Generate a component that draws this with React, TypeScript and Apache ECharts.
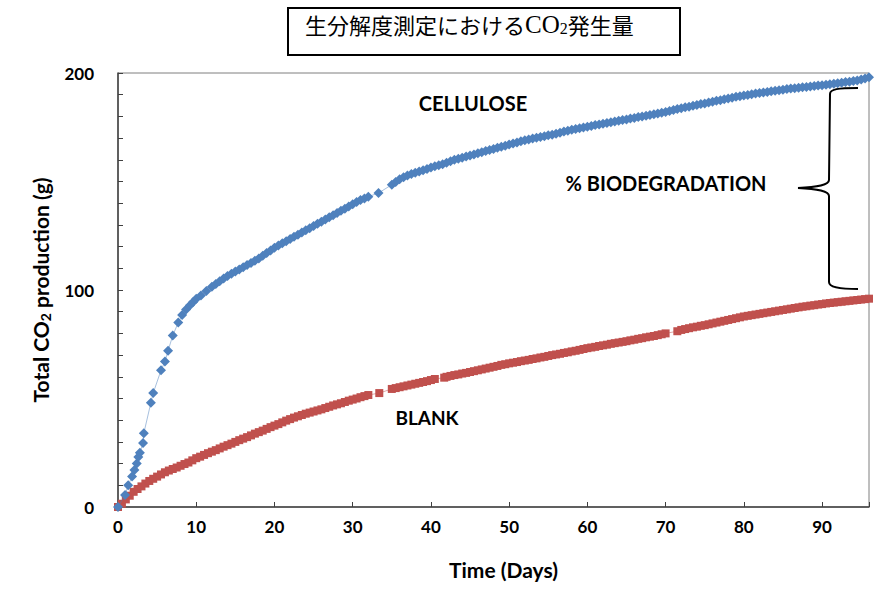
import React, { useEffect, useRef } from "react";
import * as echarts from "echarts";

// [day, total CO2 (g)]
const cellulosePoints: [number, number][] = [
  [0, 0], [0.9, 5.5], [1.3, 10], [1.8, 14], [2.1, 17], [2.4, 20], [2.6, 23], [2.8, 25], [3.2, 29.5], [3.3, 34],
  [4.2, 48], [4.5, 52.5], [5.5, 63], [6, 67], [6.4, 72], [7, 79], [7.7, 85], [8.2, 88.5], [8.7, 91], [9.2, 93], [9.6, 94.5],
  [10, 96], [10.6, 97.5], [11.3, 99.5], [12, 101.5], [12.5, 102.8], [13, 104], [13.5, 105.3], [14, 106.5], [14.5, 107.5],
  [15, 108.5], [15.5, 109.5], [16, 110.5], [16.5, 111.5], [17, 112.5], [17.5, 113.5], [18, 114.5], [18.5, 115.8], [19, 117], [19.5, 118.2],
  [20, 119.5], [20.5, 120.5], [21, 121.5], [21.5, 122.5], [22, 123.5], [22.5, 124.5], [23, 125.5], [23.5, 126.5], [24, 127.5], [24.5, 128.5],
  [25, 129.5], [25.5, 130.5], [26, 131.5], [26.5, 132.5], [27, 133.5], [27.5, 134.5], [28, 135.5], [28.5, 136.5], [29, 137.5], [29.5, 138.5],
  [30, 139.5], [30.5, 140.5], [31, 141.5], [31.5, 142.2], [32, 143], [33.3, 144.7], [35, 148.5], [35.5, 149.8], [36, 151], [36.5, 152],
  [37, 152.8], [37.5, 153.5], [38, 154], [38.5, 154.6], [39, 155.2], [39.5, 155.8], [40, 156.4], [40.5, 157], [41, 157.5], [41.5, 158],
  [42, 158.6], [42.5, 159.3], [43, 160], [43.5, 160.5], [44, 161], [44.5, 161.5], [45, 162], [45.5, 162.5], [46, 163], [46.5, 163.5],
  [47, 164], [47.5, 164.5], [48, 165], [48.5, 165.5], [49, 166], [49.5, 166.5], [50, 167], [50.5, 167.5], [51, 168], [51.5, 168.5],
  [52, 169], [52.5, 169.4], [53, 169.8], [53.5, 170.2], [54, 170.5], [54.5, 170.9], [55, 171.3], [55.5, 171.6], [56, 172], [56.5, 172.5],
  [57, 173], [57.5, 173.4], [58, 173.8], [58.5, 174.2], [59, 174.5], [59.5, 174.9], [60, 175.2], [60.5, 175.6], [61, 176], [61.5, 176.3],
  [62, 176.6], [62.5, 177], [63, 177.3], [63.5, 177.7], [64, 178], [64.5, 178.3], [65, 178.6], [65.5, 179], [66, 179.3], [66.5, 179.7],
  [67, 180], [67.5, 180.3], [68, 180.6], [68.5, 181], [69, 181.3], [69.5, 181.7], [70, 182], [70.5, 182.5], [71, 183], [71.5, 183.4],
  [72, 183.8], [72.5, 184.2], [73, 184.5], [73.5, 184.9], [74, 185.3], [74.5, 185.7], [75, 186], [75.5, 186.4], [76, 186.8], [76.5, 187.2],
  [77, 187.5], [77.5, 187.9], [78, 188.2], [78.5, 188.6], [79, 189], [79.5, 189.3], [80, 189.6], [80.5, 189.9], [81, 190.2], [81.5, 190.5],
  [82, 190.8], [82.5, 191], [83, 191.3], [83.5, 191.6], [84, 191.8], [84.5, 192.1], [85, 192.3], [85.5, 192.6], [86, 192.8], [86.5, 193],
  [87, 193.2], [87.5, 193.4], [88, 193.6], [88.5, 193.8], [89, 194], [89.5, 194.2], [90, 194.4], [90.5, 194.6], [91, 194.8], [91.5, 195],
  [92, 195.3], [92.5, 195.5], [93, 195.8], [93.5, 196], [94, 196.3], [94.5, 196.6], [95, 197], [95.5, 197.5], [96, 198],
];

const blankPoints: [number, number][] = [
  [0, 0], [0.5, 1.5], [1, 3.5], [1.5, 5.2], [2, 7], [2.5, 8.3], [3, 9.5], [3.5, 10.8], [4, 12], [4.5, 13],
  [5, 14], [5.5, 15], [6, 16], [6.5, 16.8], [7, 17.5], [7.5, 18.2], [8, 19], [8.5, 19.8], [9, 20.5], [9.5, 21.5],
  [10, 22.5], [10.5, 23.2], [11, 24], [11.5, 24.8], [12, 25.5], [12.5, 26.2], [13, 27], [13.5, 27.8], [14, 28.5], [14.5, 29.2],
  [15, 30], [15.5, 30.8], [16, 31.5], [16.5, 32.2], [17, 33], [17.5, 33.8], [18, 34.5], [18.5, 35.2], [19, 36], [19.5, 36.8],
  [20, 37.5], [20.5, 38.2], [21, 39], [21.5, 39.8], [22, 40.5], [22.5, 41.2], [23, 41.8], [23.5, 42.4], [24, 43], [24.5, 43.5],
  [25, 44], [25.5, 44.5], [26, 45], [26.5, 45.6], [27, 46.2], [27.5, 46.8], [28, 47.3], [28.5, 47.8], [29, 48.4], [29.5, 49],
  [30, 49.5], [30.5, 50], [31, 50.6], [31.5, 51.1], [32, 51.6], [33.4, 52.5], [35, 54.4], [35.5, 54.8], [36, 55.2], [36.5, 55.6],
  [37, 56], [37.5, 56.4], [38, 56.8], [38.5, 57.2], [39, 57.6], [39.5, 58], [40, 58.5], [40.5, 59], [41.7, 59.6], [42, 60],
  [42.5, 60.4], [43, 60.8], [43.5, 61.1], [44, 61.5], [44.5, 61.8], [45, 62.2], [45.5, 62.6], [46, 63], [46.5, 63.4], [47, 63.8],
  [47.5, 64.2], [48, 64.6], [48.5, 65], [49, 65.5], [49.5, 65.8], [50, 66.2], [50.5, 66.5], [51, 66.8], [51.5, 67.2], [52, 67.5],
  [52.5, 67.8], [53, 68.2], [53.5, 68.5], [54, 68.9], [54.5, 69.2], [55, 69.6], [55.5, 70], [56, 70.3], [56.5, 70.6], [57, 71],
  [57.5, 71.3], [58, 71.7], [58.5, 72], [59, 72.4], [59.5, 72.8], [60, 73.2], [60.5, 73.5], [61, 73.8], [61.5, 74.2], [62, 74.5],
  [62.5, 74.8], [63, 75.2], [63.5, 75.5], [64, 75.8], [64.5, 76.1], [65, 76.4], [65.5, 76.8], [66, 77.1], [66.5, 77.5], [67, 77.8],
  [67.5, 78.2], [68, 78.5], [68.5, 78.8], [69, 79.2], [69.5, 79.6], [70, 80], [71.5, 81], [72, 81.6], [72.5, 82], [73, 82.4],
  [73.5, 82.8], [74, 83.1], [74.5, 83.5], [75, 83.8], [75.5, 84.2], [76, 84.6], [76.5, 85], [77, 85.4], [77.5, 85.8], [78, 86.2],
  [78.5, 86.6], [79, 87], [79.5, 87.4], [80, 87.8], [80.5, 88.1], [81, 88.4], [81.5, 88.7], [82, 89], [82.5, 89.3], [83, 89.6],
  [83.5, 89.9], [84, 90.2], [84.5, 90.5], [85, 90.8], [85.5, 91.1], [86, 91.4], [86.5, 91.7], [87, 92], [87.5, 92.3], [88, 92.5],
  [88.5, 92.8], [89, 93], [89.5, 93.3], [90, 93.5], [90.5, 93.8], [91, 94], [91.5, 94.2], [92, 94.4], [92.5, 94.6], [93, 94.8],
  [93.5, 95], [94, 95.2], [94.5, 95.4], [95, 95.6], [95.5, 95.8], [96, 96],
];

const xTicks = [0, 10, 20, 30, 40, 50, 60, 70, 80, 90];
const yLabels = [0, 100, 200];

const FONT = "Lato";

export default function App() {
  const ref = useRef<HTMLDivElement>(null);
  useEffect(() => {
    if (!ref.current) return;
    echarts.graphic.registerShape(
      "brace",
      echarts.graphic.extendPath(
        "M 60 0 C 40 0 32 1 32 6 L 31 92 C 31 97 20 99 0 100 C 20 101 31 103 31 108 L 31 194 C 31 199 40 201 60 201",
        {}
      )
    );
    const chart = echarts.init(ref.current, null, { renderer: "svg" });
    chart.setOption({
      animation: false,
      backgroundColor: "#ffffff",
      grid: {
        left: 118,
        right: 17,
        top: 73,
        bottom: 82,
        show: true,
        borderColor: "#7f7f7f",
        borderWidth: 1,
      },
      xAxis: {
        type: "value",
        min: 0,
        max: 96,
        interval: 10,
        name: "Time (Days)",
        nameLocation: "middle",
        nameGap: 52,
        nameTextStyle: {
          fontFamily: FONT,
          fontWeight: "bold",
          fontSize: 21,
          color: "#000",
          padding: [0, 0, 0, 20],
        },
        axisLine: { show: true, onZero: false, lineStyle: { color: "#404040", width: 1.5 } },
        axisTick: { show: true, inside: true, length: 5, lineStyle: { color: "#404040" } },
        axisLabel: {
          fontFamily: FONT,
          fontWeight: "bold",
          fontSize: 17,
          color: "#000",
          margin: 11,
          formatter: (v: number) => (xTicks.includes(v) ? String(v) : ""),
        },
        splitLine: { show: false },
      },
      yAxis: {
        type: "value",
        min: 0,
        max: 200,
        interval: 10,
        name: "{a|Total CO}{s|2}{a| production (g)}",
        nameLocation: "middle",
        nameGap: 66,
        nameRotate: 90,
        nameTextStyle: {
          rich: {
            a: { fontFamily: FONT, fontWeight: "bold", fontSize: 21, color: "#000" },
            s: { fontFamily: FONT, fontWeight: "bold", fontSize: 14, color: "#000", padding: [9, 0, 0, 0] },
          },
        },
        axisLine: { show: true, lineStyle: { color: "#404040", width: 1.5 } },
        axisTick: { show: true, inside: true, length: 5, lineStyle: { color: "#404040" } },
        axisLabel: {
          fontFamily: FONT,
          fontWeight: "bold",
          fontSize: 17,
          color: "#000",
          margin: 24,
          formatter: (v: number) => (yLabels.includes(v) ? String(v) : ""),
        },
        splitLine: { show: false },
      },
      series: [
        {
          name: "BLANK",
          type: "line",
          data: blankPoints,
          symbol: "rect",
          symbolSize: 8,
          showAllSymbol: true,
          itemStyle: { color: "#C0504D" },
          lineStyle: { color: "#C0504D", width: 1, opacity: 0.5 },
          z: 2,
        },
        {
          name: "CELLULOSE",
          type: "line",
          data: cellulosePoints,
          symbol: "diamond",
          symbolSize: 10,
          showAllSymbol: true,
          itemStyle: { color: "#4F81BD" },
          lineStyle: { color: "#4F81BD", width: 1, opacity: 0.5 },
          z: 3,
        },
      ],
      graphic: [
        {
          type: "rect",
          shape: { x: 288, y: 8, width: 392, height: 47 },
          style: { fill: "#fff", stroke: "#000", lineWidth: 2 },
        },
        {
          type: "text",
          x: 305,
          y: 24,
          style: {
            text: "{j|生分解度測定における}{c|CO}{s|2}{j|発生量}",
            verticalAlign: "middle",
            rich: {
              j: { fontFamily: "Noto Sans CJK JP", fontSize: 22, fill: "#000" },
              c: { fontFamily: "Liberation Serif", fontSize: 25, fill: "#000" },
              s: { fontFamily: "Liberation Serif", fontSize: 16, fill: "#000", padding: [9, 0, 0, 0] },
            },
          },
        },
        {
          type: "text",
          x: 473,
          y: 103,
          style: { text: "CELLULOSE", fontFamily: FONT, fontWeight: "bold", fontSize: 20, fill: "#000", align: "center", verticalAlign: "middle" },
        },
        {
          type: "text",
          x: 666,
          y: 183,
          style: { text: "% BIODEGRADATION", fontFamily: FONT, fontWeight: "bold", fontSize: 20, fill: "#000", align: "center", verticalAlign: "middle" },
        },
        {
          type: "text",
          x: 427,
          y: 417,
          style: { text: "BLANK", fontFamily: FONT, fontWeight: "bold", fontSize: 19, fill: "#000", align: "center", verticalAlign: "middle" },
        },
        {
          type: "brace",
          x: 798,
          y: 88,
          style: { fill: "none", stroke: "#000", lineWidth: 2 },
        },
      ],
    });
    return () => chart.dispose();
  }, []);
  return <div ref={ref} style={{ width: 886, height: 589, position: "absolute", left: 0, top: 0 }} />;
}
